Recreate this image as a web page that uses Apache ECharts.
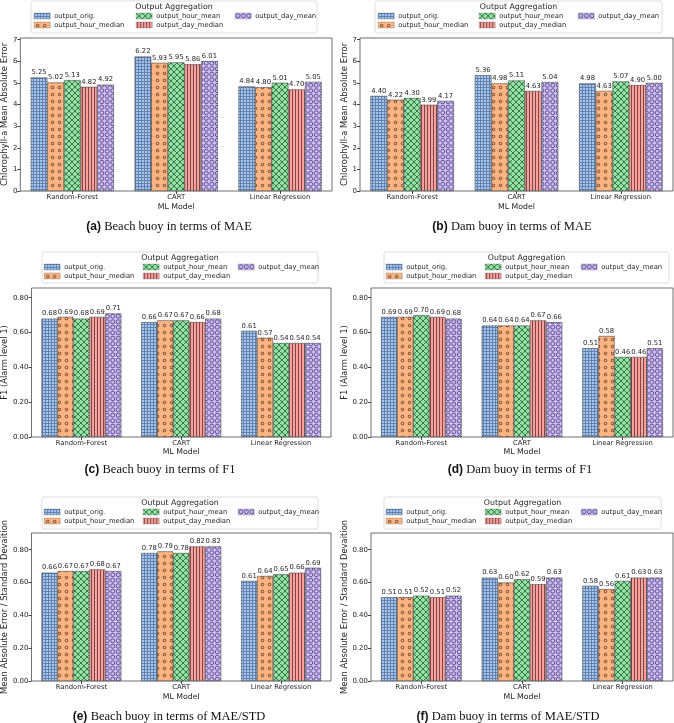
<!DOCTYPE html>
<html>
<head>
<meta charset="utf-8">
<script src="https://cdn.jsdelivr.net/npm/echarts@6/dist/echarts.min.js"></script>
<style>
html,body{margin:0;padding:0;background:#fff;}
#chart{width:674px;height:723px;}
</style>
</head>
<body>
<div id="chart"></div>
<script>
// ---------- data ----------
const categories = ['Random-Forest', 'CART', 'Linear Regression'];
const seriesNames = ['output_orig.', 'output_hour_median', 'output_hour_mean', 'output_day_median', 'output_day_mean'];
const legendTitle = 'Output Aggregation';
const xAxisTitle = 'ML Model';

// rows: one per series (orig, hour_median, hour_mean, day_median, day_mean); columns: categories
const beachMAE = [[5.25, 6.22, 4.84], [5.02, 5.93, 4.80], [5.13, 5.95, 5.01], [4.82, 5.86, 4.70], [4.92, 6.01, 5.05]];
const damMAE   = [[4.40, 5.36, 4.98], [4.22, 4.98, 4.63], [4.30, 5.11, 5.07], [3.99, 4.63, 4.90], [4.17, 5.04, 5.00]];
const beachF1  = [[0.68, 0.66, 0.61], [0.69, 0.67, 0.57], [0.68, 0.67, 0.54], [0.69, 0.66, 0.54], [0.71, 0.68, 0.54]];
const damF1    = [[0.69, 0.64, 0.51], [0.69, 0.64, 0.58], [0.70, 0.64, 0.46], [0.69, 0.67, 0.46], [0.68, 0.66, 0.51]];
const beachMAEstd = [[0.66, 0.78, 0.61], [0.67, 0.79, 0.64], [0.67, 0.78, 0.65], [0.68, 0.82, 0.66], [0.67, 0.82, 0.69]];
const damMAEstd   = [[0.51, 0.63, 0.58], [0.51, 0.60, 0.56], [0.52, 0.62, 0.61], [0.51, 0.59, 0.63], [0.52, 0.63, 0.63]];

const yTitles = ['Chlorophyll-a Mean Absolute Error', 'Chlorophyll-a Mean Absolute Error',
                 'F1 (Alarm level 1)', 'F1 (Alarm level 1)',
                 'Mean Absolute Error / Standard Devaition', 'Mean Absolute Error / Standard Devaition'];
const captionTags = ['(a)', '(b)', '(c)', '(d)', '(e)', '(f)'];
const captionTexts = ['Beach buoy in terms of MAE', 'Dam buoy in terms of MAE',
                      'Beach buoy in terms of F1', 'Dam buoy in terms of F1',
                      'Beach buoy in terms of MAE/STD', 'Dam buoy in terms of MAE/STD'];
const yMax = [7.08, 7.08, 0.856, 0.856, 0.902, 0.902];
const yInterval = [1, 1, 0.2, 0.2, 0.2, 0.2];
const yDecimals = [0, 0, 2, 2, 2, 2];
const panelData = [beachMAE, damMAE, beachF1, damF1, beachMAEstd, damMAEstd];

// ---------- layout / style ----------
const FONT = 'DejaVu Sans';
const TXT = '#262626';
const colors = ['#a1c9f4', '#ffb482', '#8de5a1', '#ff9f9b', '#d0bbff'];
const hatches = ['grid', 'dots', 'cross', 'vline', 'rings'];

const layout = [
  {grid: {left: 18, top: 38, width: 314, height: 153}, nameGapY: 9, nameGapX: 12,
   box: [31, 1, 286, 32], cols: [34, 136, 235], rowTop: 12.5, titleY: 6.5, cap: [169, 227]},
  {grid: {left: 360, top: 38, width: 313, height: 153}, nameGapY: 9, nameGapX: 12,
   box: [375, 1, 287, 32], cols: [378, 479, 578], rowTop: 12.5, titleY: 6.5, cap: [512, 227]},
  {grid: {left: 28, top: 288, width: 303, height: 149}, nameGapY: 19, nameGapX: 10,
   box: [42, 252, 276, 31], cols: [44, 143, 238], rowTop: 263.5, titleY: 257.5, cap: [160, 470]},
  {grid: {left: 371, top: 288, width: 302, height: 149}, nameGapY: 19, nameGapX: 10,
   box: [384, 252, 285, 31], cols: [386, 485, 581], rowTop: 263.5, titleY: 257.5, cap: [520, 470]},
  {grid: {left: 28, top: 533, width: 303, height: 148}, nameGapY: 19, nameGapX: 12,
   box: [42, 497, 276, 32], cols: [44, 143, 238], rowTop: 508.5, titleY: 503, cap: [169, 717]},
  {grid: {left: 371, top: 533, width: 302, height: 148}, nameGapY: 19, nameGapX: 12,
   box: [384, 497, 277, 32], cols: [386, 485, 581], rowTop: 508.5, titleY: 503, cap: [508, 717]}
];

function makePattern(kind, bg) {
  const c = document.createElement('canvas');
  let w = 6, h = 6;
  if (kind === 'grid' || kind === 'vline') { w = 3; h = 3; }
  if (kind === 'dots') { w = 7; h = 7; }
  if (kind === 'rings') { w = 11; h = 11; }
  c.width = w; c.height = h;
  const ctx = c.getContext('2d');
  ctx.fillStyle = bg; ctx.fillRect(0, 0, w, h);
  if (kind === 'grid') {
    ctx.fillStyle = 'rgba(30,40,80,0.45)';
    ctx.fillRect(0, 0, 3, 1); ctx.fillRect(0, 1, 1, 2);
  } else if (kind === 'vline') {
    ctx.fillStyle = 'rgba(30,20,20,0.6)';
    ctx.fillRect(1, 0, 1, 3);
  } else if (kind === 'cross') {
    ctx.strokeStyle = 'rgba(20,30,20,0.75)'; ctx.lineWidth = 0.8;
    ctx.beginPath(); ctx.moveTo(0, 0); ctx.lineTo(6, 6); ctx.moveTo(6, 0); ctx.lineTo(0, 6); ctx.stroke();
  } else if (kind === 'dots') {
    ctx.strokeStyle = 'rgba(30,20,10,0.8)'; ctx.lineWidth = 0.8;
    ctx.beginPath(); ctx.arc(3.5, 3.5, 1.3, 0, Math.PI * 2); ctx.stroke();
  } else if (kind === 'rings') {
    ctx.strokeStyle = 'rgba(20,20,40,0.75)'; ctx.lineWidth = 0.8;
    [[2.75, 2.75], [8.25, 2.75], [2.75, 8.25], [8.25, 8.25]].forEach(([x, y]) => {
      ctx.beginPath(); ctx.arc(x, y, 2, 0, Math.PI * 2); ctx.stroke();
    });
  }
  return {image: c, repeat: 'repeat'};
}
const patterns = hatches.map((k, i) => makePattern(k, colors[i]));

const grids = [], xAxes = [], yAxes = [], series = [], legends = [], graphics = [];
layout.forEach((L, p) => {
  grids.push(Object.assign({show: true, borderColor: '#4a4a4a', borderWidth: 0.8, backgroundColor: '#fff'}, L.grid));
  xAxes.push({
    type: 'category', gridIndex: p, data: categories,
    name: xAxisTitle, nameLocation: 'middle', nameGap: L.nameGapX,
    nameTextStyle: {fontFamily: FONT, fontSize: 7.8, color: TXT},
    axisLine: {show: false}, axisTick: {show: true, alignWithLabel: true, length: 3, lineStyle: {color: '#444'}},
    axisLabel: {fontFamily: FONT, fontSize: 6.8, color: TXT, margin: 3}
  });
  yAxes.push({
    type: 'value', gridIndex: p, min: 0, max: yMax[p], interval: yInterval[p],
    name: yTitles[p], nameLocation: 'middle', nameGap: L.nameGapY, nameRotate: 90,
    nameTextStyle: {fontFamily: FONT, fontSize: 8.4, color: TXT},
    axisLine: {show: false}, splitLine: {show: false},
    axisTick: {show: true, length: 3, lineStyle: {color: '#444'}},
    axisLabel: {fontFamily: FONT, fontSize: 7, color: TXT, margin: 3, showMaxLabel: false,
      formatter: v => (Math.abs(Number(v) - yMax[p]) < 1e-9 ? '' : Number(v).toFixed(yDecimals[p]))}
  });
  seriesNames.forEach((nm, s) => {
    series.push({
      type: 'bar', name: nm, xAxisIndex: p, yAxisIndex: p, data: panelData[p][s],
      barGap: '0%', barCategoryGap: '20%',
      itemStyle: {color: patterns[s], borderColor: '#333', borderWidth: 0.5},
      label: {show: true, position: 'top', distance: 1.5, fontFamily: FONT, fontSize: 6.8, color: TXT,
        formatter: pr => Number(pr.value).toFixed(2)},
      emphasis: {disabled: true}, animation: false
    });
  });
  const colGroups = [[seriesNames[0], seriesNames[1]], [seriesNames[2], seriesNames[3]], [seriesNames[4]]];
  colGroups.forEach((g, ci) => {
    legends.push({
      data: g, orient: 'vertical', left: L.cols[ci], top: L.rowTop, padding: 0,
      itemWidth: 16, itemHeight: 6, itemGap: 2, icon: 'rect', selectedMode: false,
      itemStyle: {borderWidth: 0.3, borderColor: '#555'},
      textStyle: {fontFamily: FONT, fontSize: 6.8, color: TXT, padding: [0, 0, 0, -1]}
    });
  });
  graphics.push({
    type: 'rect', z: 1, shape: {x: L.box[0], y: L.box[1], width: L.box[2], height: L.box[3], r: 2},
    style: {fill: '#fff', stroke: '#d6d6d6', lineWidth: 0.8}
  });
  graphics.push({
    type: 'text', z: 2, x: L.box[0] + L.box[2] / 2, y: L.titleY,
    style: {text: legendTitle, fontFamily: FONT, fontSize: 7.8, fill: TXT,
      align: 'center', verticalAlign: 'middle', textAlign: 'center', textVerticalAlign: 'middle'}
  });
  graphics.push({
    type: 'text', z: 2, x: L.cap[0], y: L.cap[1],
    style: {text: '{b|' + captionTags[p] + '} {s|' + captionTexts[p] + '}',
      rich: {b: {fontFamily: 'Liberation Sans', fontWeight: 'bold', fontSize: 12, fill: '#111'},
             s: {fontFamily: 'Liberation Serif', fontSize: 12.5, fill: '#111'}},
      fill: '#111', align: 'center', verticalAlign: 'middle', textAlign: 'center', textVerticalAlign: 'middle'}
  });
});

const chart = echarts.init(document.getElementById('chart'), null, {renderer: 'canvas'});
chart.setOption({
  backgroundColor: '#fff',
  animation: false,
  grid: grids, xAxis: xAxes, yAxis: yAxes, series: series,
  legend: legends, graphic: {elements: graphics}
});
</script>
</body>
</html>
